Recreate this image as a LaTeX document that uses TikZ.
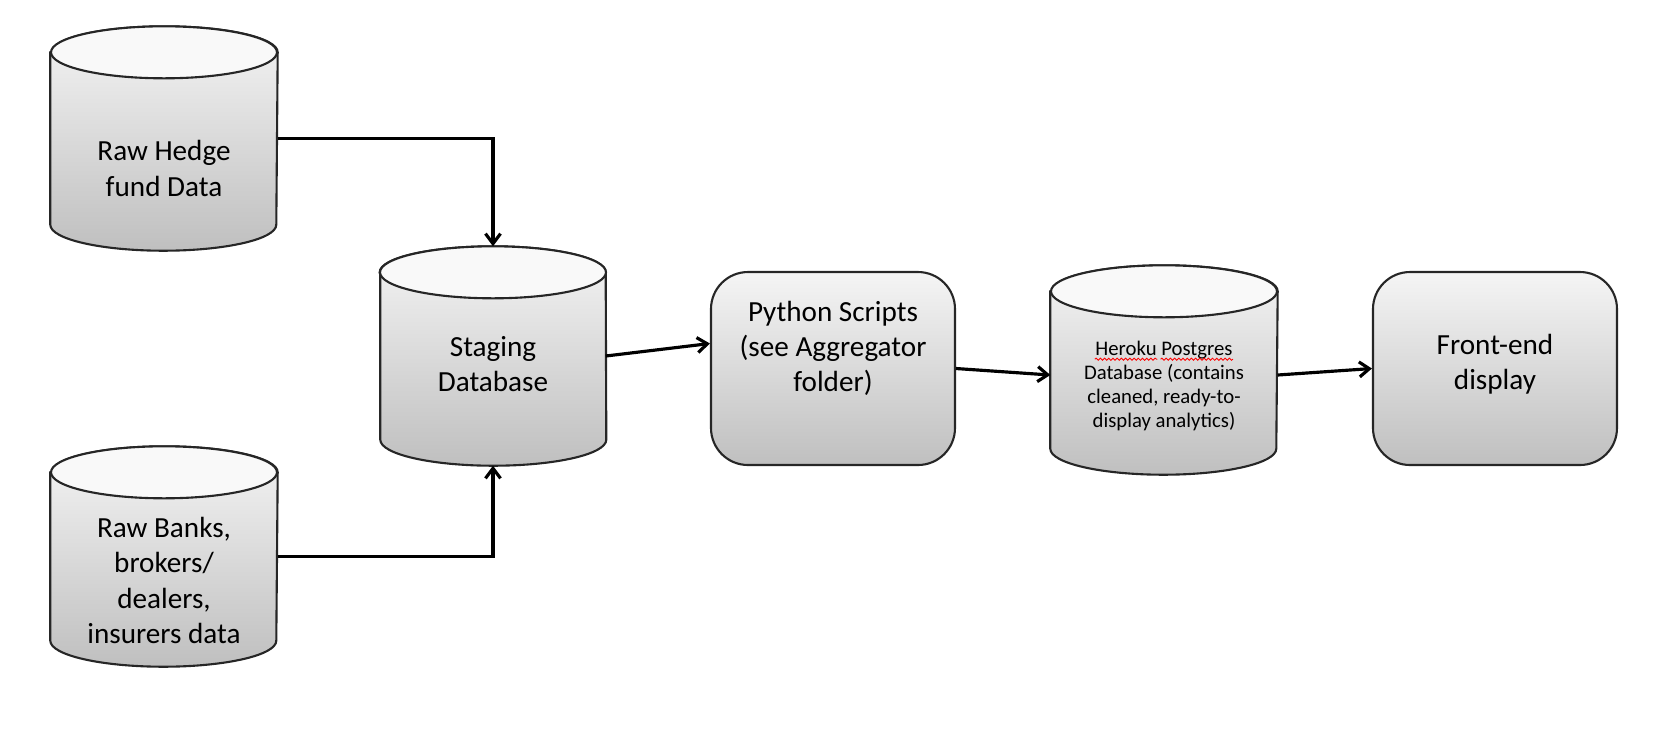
\documentclass[tikz,border=0pt]{standalone}
\usepackage{fontspec}
\setmainfont{Carlito}
\usepackage{tikz}
\usetikzlibrary{arrows.meta, backgrounds, decorations.pathmorphing}
\tikzset{dbase/.style={rectangle, minimum width = 2.26cm, minimum height = 2.2cm, inner sep = 0pt}}
\tikzset{procbox/.style={rectangle, rounded corners = .37cm, draw = black!85, line width = .6pt,
    top color = gray!8, bottom color = gray!50, minimum width = 2.44cm, minimum height = 1.93cm, inner sep = 0pt}}
\tikzset{boxtext/.style={align = center, font = \fontsize{8.3}{10}\selectfont, inner sep = 0pt}}
\tikzset{smalltext/.style={align = center, font = \fontsize{5.9}{6.8}\selectfont, inner sep = 0pt}}
\tikzset{flow/.style={line width = .9pt, -{Straight Barb[length = 1mm, width = 1.5mm]}}}
\newcommand{\dbry}{.26cm}
\newcommand{\drawdb}[1]{
  \path[draw = black!85, line width = .6pt, top color = gray!8, bottom color = gray!50]
    ([yshift = -\dbry]#1.north west) -- ([yshift = \dbry]#1.south west)
    arc [start angle = 180, end angle = 360, x radius = 1.13cm, y radius = \dbry]
    -- ([yshift = -\dbry]#1.north east)
    arc [start angle = 0, end angle = 180, x radius = 1.13cm, y radius = \dbry] -- cycle;
  \path[draw = black!85, line width = .6pt, fill = gray!5]
    ([yshift = -\dbry]#1.north) ellipse [x radius = 1.13cm, y radius = \dbry];
}
\newcommand{\squig}[1]{\tikz[baseline = (sq.base)]{\node[inner sep = 0pt] (sq) {#1};%
  \draw[overlay, red, line width = .25pt, decorate, decoration = {snake, amplitude = .3pt, segment length = 1.2pt}]
    ([yshift = -1pt]sq.base west) -- ([yshift = -1pt]sq.base east);}}

\begin{document}
\begin{tikzpicture}
    \useasboundingbox (0, 0) rectangle (16.7, -7.52);

    \node [dbase, minimum height = 2.23cm,
    label = {[name = hedgetxt, boxtext, yshift = -.3cm]center:{Raw Hedge\\fund Data}}]
    (hedge) at (1.64, -1.385) {};

    \node [dbase, minimum height = 2.19cm,
    label = {[name = bankstxt, boxtext, yshift = -.24cm]center:{Raw Banks,\\brokers/\\dealers,\\insurers data}}]
    (banks) at (1.64, -5.565) {};

    \node [dbase, minimum width = 2.24cm, minimum height = 2.18cm,
    label = {[name = stagetxt, boxtext, yshift = -.08cm]center:{Staging\\Database}}]
    (stage) at (4.93, -3.56) {};

    \node [procbox,
    label = {[name = pytxt, boxtext, yshift = .2cm]center:{Python Scripts\\(see Aggregator\\folder)}}]
    (py) at (8.33, -3.685) {};

    \node [dbase, minimum height = 2.08cm,
    label = {[name = herokutxt, smalltext, yshift = -.16cm]center:{\squig{Heroku} \squig{Postgres}\\Database (contains\\cleaned, ready-to-\\display analytics)}}]
    (heroku) at (11.64, -3.7) {};

    \node [procbox,
    label = {[name = fronttxt, boxtext, yshift = .04cm]center:{Front-end\\display}}]
    (front) at (14.95, -3.685) {};

    \begin{scope}[on background layer]
        \drawdb{hedge}
        \drawdb{banks}
        \drawdb{stage}
        \drawdb{heroku}
    \end{scope}

    \draw [flow] (hedge.east) -| (stage.north);
    \draw [flow] (banks.east) -| (stage.south);
    \draw [flow] (stage.east) -- ([yshift = .25cm]py.west);
    \draw [flow] (py.east) -- ([yshift = -.05cm]heroku.west);
    \draw [flow] ([yshift = -.05cm]heroku.east) -- (front.west);
\end{tikzpicture}
\end{document}
